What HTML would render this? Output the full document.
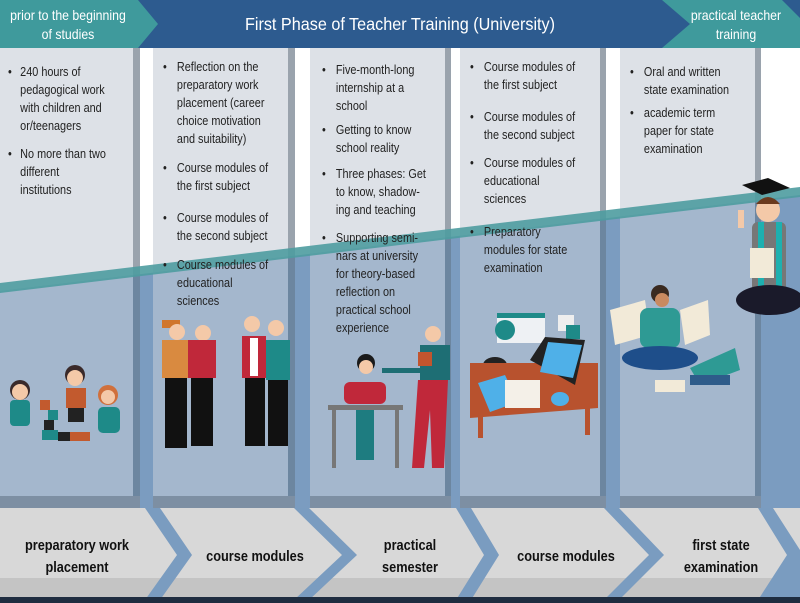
<!DOCTYPE html>
<html><head><meta charset="utf-8"><style>
html,body{margin:0;padding:0;width:800px;height:603px;overflow:hidden;background:#fff}
svg{display:block}
text{font-family:"Liberation Sans Narrow","Liberation Sans",sans-serif;fill:#222}
.t{font-size:12.5px}
.b{font-size:15px;font-weight:bold;fill:#111}
</style></head><body>
<svg width="800" height="603" viewBox="0 0 800 603" xmlns="http://www.w3.org/2000/svg">
<defs>
<clipPath id="low"><polygon points="0,291 800,195 800,603 0,603"/></clipPath>
</defs>
<rect width="800" height="603" fill="#fff"/>
<g fill="#dde1e7">
<rect x="0" y="48" width="133" height="460"/>
<rect x="153" y="48" width="135" height="460"/>
<rect x="310" y="48" width="135" height="460"/>
<rect x="460" y="48" width="140" height="460"/>
<rect x="620" y="48" width="135" height="460"/>
</g>
<g fill="#9aa3ad">
<rect x="133" y="48" width="7" height="460"/>
<rect x="288" y="48" width="7" height="460"/>
<rect x="445" y="48" width="6" height="460"/>
<rect x="600" y="48" width="6" height="460"/>
<rect x="755" y="48" width="6" height="460"/>
</g>
<g clip-path="url(#low)">
<rect width="800" height="603" fill="#7b9cc0"/>
<g fill="#a4b7cd">
<rect x="0" y="48" width="133" height="455"/>
<rect x="153" y="48" width="135" height="455"/>
<rect x="310" y="48" width="135" height="455"/>
<rect x="460" y="48" width="140" height="455"/>
<rect x="620" y="48" width="135" height="455"/>
</g>
<g fill="#6c86a0">
<rect x="133" y="48" width="7" height="460"/>
<rect x="288" y="48" width="7" height="460"/>
<rect x="445" y="48" width="6" height="460"/>
<rect x="600" y="48" width="6" height="460"/>
<rect x="755" y="48" width="6" height="460"/>
</g>
<g fill="#7d8fa3">
<rect x="0" y="496" width="140" height="12"/>
<rect x="153" y="496" width="142" height="12"/>
<rect x="310" y="496" width="141" height="12"/>
<rect x="460" y="496" width="146" height="12"/>
<rect x="620" y="496" width="141" height="12"/>
</g>
</g>
<polygon points="0,283 800,187 800,197 0,293" fill="#4e9ca0" opacity="0.9"/>
<rect x="0" y="0" width="800" height="48" fill="#2d5b8f"/>
<polygon points="0,0 138,0 158,24 138,48 0,48" fill="#3f9a9c"/>
<polygon points="662,0 782,0 800,18 800,48 662,48 690,24" fill="#3f9a9c"/>
<g transform="translate(400,0) scale(0.9,1) translate(-400,0)">
<text x="400" y="30" text-anchor="middle" style="font-size:18px;fill:#fff">First Phase of Teacher Training (University)</text></g>
<g transform="translate(68,0) scale(0.88,1) translate(-68,0)">
<text x="68" y="20" text-anchor="middle" style="font-size:14px;fill:#fff">prior to the beginning</text>
<text x="68" y="39" text-anchor="middle" style="font-size:14px;fill:#fff">of  studies</text></g>
<g transform="translate(736,0) scale(0.88,1) translate(-736,0)">
<text x="736" y="20" text-anchor="middle" style="font-size:14px;fill:#fff">practical teacher</text>
<text x="736" y="39" text-anchor="middle" style="font-size:14px;fill:#fff">training</text></g>
<rect x="0" y="508" width="800" height="90" fill="#d8d8d8"/>
<rect x="0" y="578" width="800" height="20" fill="#c4c4c4"/>
<g fill="#7a9cc0">
<polygon points="145,508 160,508 192,555 160,600 145,600 177,555"/>
<polygon points="294,508 309,508 357,555 309,600 294,600 342,555"/>
<polygon points="456,508 471,508 499,555 471,600 456,600 484,555"/>
<polygon points="604,508 619,508 664,555 619,600 604,600 649,555"/>
<polygon points="758,508 773,508 800,550 800,600 758,600 787,555"/>
</g>
<rect x="0" y="597" width="800" height="6" fill="#1f2d40"/>
<g transform="translate(77,0) scale(0.85,1) translate(-77,0)">
<text class="b" x="77" y="550" text-anchor="middle">preparatory work</text>
<text class="b" x="77" y="572" text-anchor="middle">placement</text></g>
<g transform="translate(255,0) scale(0.85,1) translate(-255,0)">
<text class="b" x="255" y="561" text-anchor="middle">course modules</text></g>
<g transform="translate(410,0) scale(0.85,1) translate(-410,0)">
<text class="b" x="410" y="550" text-anchor="middle">practical</text>
<text class="b" x="410" y="572" text-anchor="middle">semester</text></g>
<g transform="translate(566,0) scale(0.85,1) translate(-566,0)">
<text class="b" x="566" y="561" text-anchor="middle">course modules</text></g>
<g transform="translate(721,0) scale(0.85,1) translate(-721,0)">
<text class="b" x="721" y="550" text-anchor="middle">first state</text>
<text class="b" x="721" y="572" text-anchor="middle">examination</text></g>
<g class="t">
<g transform="translate(8,0) scale(0.87,1) translate(-8,0)">
<text x="8" y="76">•</text><text x="22" y="76">240 hours of</text>
<text x="22" y="94">pedagogical work</text><text x="22" y="112">with children and</text><text x="22" y="130">or/teenagers</text>
<text x="8" y="158">•</text><text x="22" y="158">No more than two</text><text x="22" y="176">different</text><text x="22" y="194">institutions</text></g>
<g transform="translate(163,0) scale(0.87,1) translate(-163,0)">
<text x="163" y="71">•</text><text x="179" y="71">Reflection on the</text><text x="179" y="89">preparatory work</text>
<text x="179" y="107">placement (career</text><text x="179" y="125">choice motivation</text><text x="179" y="143">and suitability)</text>
<text x="163" y="172">•</text><text x="179" y="172">Course modules of</text><text x="179" y="190">the first subject</text>
<text x="163" y="222">•</text><text x="179" y="222">Course modules of</text><text x="179" y="240">the second subject</text>
<text x="163" y="269">•</text><text x="179" y="269">Course modules of</text><text x="179" y="287">educational</text><text x="179" y="305">sciences</text></g>
<g transform="translate(322,0) scale(0.87,1) translate(-322,0)">
<text x="322" y="74">•</text><text x="338" y="74">Five-month-long</text><text x="338" y="92">internship at a</text><text x="338" y="110">school</text>
<text x="322" y="134">•</text><text x="338" y="134">Getting to know</text><text x="338" y="152">school reality</text>
<text x="322" y="178">•</text><text x="338" y="178">Three phases: Get</text><text x="338" y="196">to know, shadow-</text><text x="338" y="214">ing and teaching</text>
<text x="322" y="242">•</text><text x="338" y="242">Supporting semi-</text><text x="338" y="260">nars at university</text><text x="338" y="278">for theory-based</text>
<text x="338" y="296">reflection on</text><text x="338" y="314">practical school</text><text x="338" y="332">experience</text></g>
<g transform="translate(470,0) scale(0.87,1) translate(-470,0)">
<text x="470" y="71">•</text><text x="486" y="71">Course modules of</text><text x="486" y="89">the first subject</text>
<text x="470" y="121">•</text><text x="486" y="121">Course modules of</text><text x="486" y="139">the second subject</text>
<text x="470" y="167">•</text><text x="486" y="167">Course modules of</text><text x="486" y="185">educational</text><text x="486" y="203">sciences</text>
<text x="470" y="236">•</text><text x="486" y="236">Preparatory</text><text x="486" y="254">modules for state</text><text x="486" y="272">examination</text></g>
<g transform="translate(630,0) scale(0.87,1) translate(-630,0)">
<text x="630" y="76">•</text><text x="646" y="76">Oral and written</text><text x="646" y="94">state examination</text>
<text x="630" y="117">•</text><text x="646" y="117">academic term</text><text x="646" y="135">paper for state</text><text x="646" y="153">examination</text></g>
</g>
<g>
<circle cx="20" cy="390" r="10" fill="#3a2a2a"/><circle cx="20" cy="392" r="8" fill="#f4c9a8"/>
<rect x="10" y="400" width="20" height="26" rx="4" fill="#1e8a88"/>
<rect x="40" y="400" width="10" height="10" fill="#c25a2e"/>
<rect x="48" y="410" width="10" height="10" fill="#1e8a88"/><rect x="44" y="420" width="10" height="10" fill="#222"/>
<rect x="42" y="430" width="16" height="10" fill="#1e8a88"/>
<rect x="58" y="432" width="14" height="9" fill="#222"/><rect x="70" y="432" width="20" height="9" fill="#c25a2e"/>
<circle cx="75" cy="375" r="10" fill="#3a2a2a"/><circle cx="75" cy="378" r="8" fill="#f4c9a8"/>
<rect x="66" y="388" width="20" height="20" fill="#c25a2e"/><rect x="68" y="408" width="16" height="14" fill="#222"/>
<circle cx="108" cy="395" r="10" fill="#d0703c"/><circle cx="108" cy="397" r="7" fill="#f4c9a8"/>
<rect x="98" y="407" width="22" height="26" rx="5" fill="#1e8a88"/>
</g>
<g>
<rect x="162" y="320" width="18" height="8" fill="#d0762c"/>
<circle cx="177" cy="332" r="8" fill="#f4c9a8"/><rect x="162" y="340" width="26" height="38" fill="#d98a40"/>
<rect x="165" y="378" width="22" height="70" fill="#111"/>
<circle cx="203" cy="333" r="8" fill="#f4c9a8"/><rect x="188" y="340" width="28" height="38" fill="#c0283a"/>
<rect x="191" y="378" width="22" height="68" fill="#111"/>
<circle cx="252" cy="324" r="8" fill="#f4c9a8"/><rect x="242" y="336" width="24" height="42" fill="#c0283a"/>
<rect x="250" y="338" width="8" height="38" fill="#fff"/><rect x="245" y="378" width="20" height="68" fill="#111"/>
<circle cx="276" cy="328" r="8" fill="#f4c9a8"/><rect x="266" y="340" width="24" height="40" fill="#1e8a88"/>
<rect x="268" y="380" width="20" height="66" fill="#111"/>
</g>
<g>
<circle cx="366" cy="363" r="9" fill="#1a1a1a"/><circle cx="366" cy="367" r="7" fill="#f4c9a8"/>
<rect x="344" y="382" width="42" height="22" rx="6" fill="#c0283a"/>
<rect x="328" y="405" width="75" height="5" fill="#777"/>
<rect x="332" y="410" width="4" height="58" fill="#777"/><rect x="395" y="410" width="4" height="58" fill="#777"/>
<rect x="356" y="410" width="18" height="50" fill="#1e7c80"/>
<circle cx="433" cy="334" r="8" fill="#f4c9a8"/><rect x="420" y="345" width="30" height="35" fill="#1e6e74"/>
<rect x="382" y="368" width="40" height="5" fill="#1e6e74"/>
<rect x="418" y="352" width="14" height="14" fill="#c2552e"/>
<polygon points="418,380 448,380 444,468 432,468 430,410 424,468 412,468" fill="#c0283a"/>
</g>
<g>
<rect x="497" y="313" width="48" height="30" fill="#eef1f4"/><rect x="497" y="313" width="48" height="5" fill="#1e8a88"/>
<rect x="558" y="315" width="16" height="16" fill="#eee"/><rect x="566" y="325" width="14" height="14" fill="#1e8a88"/>
<circle cx="505" cy="330" r="10" fill="#1e8a88"/><ellipse cx="495" cy="365" rx="12" ry="8" fill="#222"/>
<polygon points="470,363 598,363 598,408 470,418" fill="#b8522e"/>
<rect x="478" y="410" width="5" height="28" fill="#b8522e"/><rect x="585" y="405" width="5" height="30" fill="#b8522e"/>
<polygon points="530,360 545,337 585,340 575,385" fill="#222"/><polygon points="548,342 582,345 573,378 540,372" fill="#4fb0e8"/>
<polygon points="478,383 505,375 518,402 490,412" fill="#4fb0e8"/>
<rect x="505" y="380" width="35" height="28" fill="#f4f0e8"/>
<ellipse cx="560" cy="399" rx="9" ry="7" fill="#4fb0e8"/>
</g>
<g>
<polygon points="610,310 645,300 650,335 615,345" fill="#f2ead8"/>
<polygon points="680,310 708,300 710,335 685,345" fill="#f2ead8"/>
<circle cx="660" cy="294" r="9" fill="#3a2a20"/><circle cx="662" cy="300" r="7" fill="#c98a60"/>
<rect x="640" y="308" width="40" height="40" rx="8" fill="#2e9a94"/>
<ellipse cx="660" cy="358" rx="38" ry="12" fill="#1e4e8a"/>
<polygon points="690,368 735,348 740,370 700,385" fill="#2e9a94"/>
<rect x="690" y="375" width="40" height="10" fill="#2e5c8a"/>
<rect x="655" y="380" width="30" height="12" fill="#f2ead8"/>
</g>
<g>
<polygon points="742,185 768,178 790,188 762,195" fill="#111"/>
<circle cx="768" cy="210" r="12" fill="#f4c9a8"/><path d="M756 204 q12 -14 24 0" fill="#6b3a1e"/>
<rect x="752" y="222" width="34" height="70" rx="6" fill="#777"/>
<rect x="758" y="222" width="6" height="70" fill="#1eb0b0"/><rect x="776" y="222" width="6" height="70" fill="#1eb0b0"/>
<ellipse cx="770" cy="300" rx="34" ry="15" fill="#1a1a2a"/>
<rect x="750" y="248" width="24" height="30" fill="#f2ead8"/>
<rect x="738" y="210" width="6" height="18" fill="#f4c9a8"/>
</g>
</svg>
</body></html>
